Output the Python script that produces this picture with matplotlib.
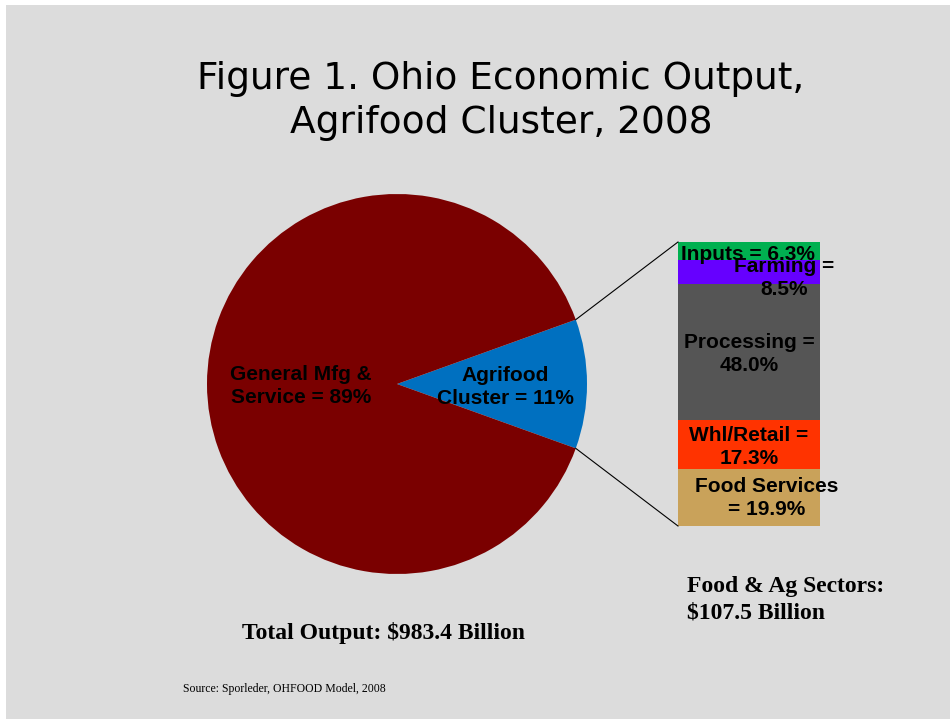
import matplotlib
matplotlib.use("Agg")
import matplotlib.pyplot as plt
from matplotlib.patches import Rectangle
import numpy as np

# ---- data ----
pie_labels = ["Agrifood\nCluster = 11%", "General Mfg &\nService = 89%"]
pie_values = [11, 89]
pie_colors = ["#0070c0", "#7a0000"]

bar_labels = ["Inputs = 6.3%", "Farming =\n8.5%", "Processing =\n48.0%",
              "Whl/Retail =\n17.3%", "Food Services\n= 19.9%"]
bar_values = [6.3, 8.5, 48.0, 17.3, 19.9]
bar_colors = ["#00b050", "#6600ff", "#555555", "#ff3300", "#c9a25a"]

title = "Figure 1. Ohio Economic Output,\nAgrifood Cluster, 2008"
total_text = "Total Output: $983.4 Billion"
sector_text = "Food & Ag Sectors:\n$107.5 Billion"
source_text = "Source: Sporleder, OHFOOD Model, 2008"

W, H = 950, 719
fig = plt.figure(figsize=(9.5, 7.19), dpi=100)
fig.patch.set_facecolor("white")
ax = fig.add_axes([0, 0, 1, 1])
ax.set_xlim(0, W)
ax.set_ylim(0, H)
ax.set_aspect("equal")
ax.axis("off")

def Y(y):
    return H - y

ax.add_patch(Rectangle((6, 0), W - 6, H - 5, facecolor="#dcdcdc", edgecolor="none", zorder=0))

# ---- pie ----
cx, cy, r = 397, Y(384), 190
half = pie_values[0] / sum(pie_values) * 360 / 2
wedges, _ = ax.pie(pie_values, colors=pie_colors, center=(cx, cy), radius=r,
                   startangle=-half, counterclock=True, frame=True,
                   wedgeprops=dict(linewidth=0))
ax.set_xlim(0, W)
ax.set_ylim(0, H)
ax.axis("off")

lab_font = dict(family="Liberation Sans", fontweight="bold", fontsize=15, color="black",
                ha="center", va="center", linespacing=1.3)
ax.text(301, Y(386), pie_labels[1], **lab_font)
ax.text(505, Y(387), pie_labels[0], **lab_font)

# ---- stacked bar ----
bx, bw = 749, 142
btop, bbot = Y(242), Y(526)
scale = (btop - bbot) / sum(bar_values)
bottom = bbot
for lab, v, c in reversed(list(zip(bar_labels, bar_values, bar_colors))):
    ax.bar(bx, v * scale, width=bw, bottom=bottom, color=c, linewidth=0, zorder=2)
    bottom += v * scale

# labels (placement)
ax.text(748, Y(254), bar_labels[0], zorder=5, **lab_font)
ax.text(784, Y(278), bar_labels[1], zorder=5, **lab_font)
ax.text(749, Y(354), bar_labels[2], zorder=5, **lab_font)
ax.text(749, Y(447), bar_labels[3], zorder=5, **lab_font)
ax.text(767, Y(498), bar_labels[4], zorder=5, **lab_font)

# connector lines
a = np.deg2rad(half)
p_top = (cx + r * np.cos(a), cy + r * np.sin(a))
p_bot = (cx + r * np.cos(a), cy - r * np.sin(a))
ax.plot([p_top[0], bx - bw / 2], [p_top[1], btop], color="black", lw=0.8, zorder=3)
ax.plot([p_bot[0], bx - bw / 2], [p_bot[1], bbot], color="black", lw=0.8, zorder=3)

# ---- texts ----
ax.text(501, Y(101), title, family="DejaVu Sans", fontsize=27, ha="center", va="center",
        linespacing=1.32, color="black")
ax.text(383, Y(633), total_text, family="Liberation Serif", fontweight="bold",
        fontsize=17, ha="center", va="center")
ax.text(687, Y(600), sector_text, family="Liberation Serif", fontweight="bold",
        fontsize=17, ha="left", va="center", linespacing=1.35)
ax.text(183, Y(689), source_text, family="Liberation Serif", fontsize=8.5,
        ha="left", va="center")

fig.savefig("out.png", dpi=100, facecolor=fig.get_facecolor())
